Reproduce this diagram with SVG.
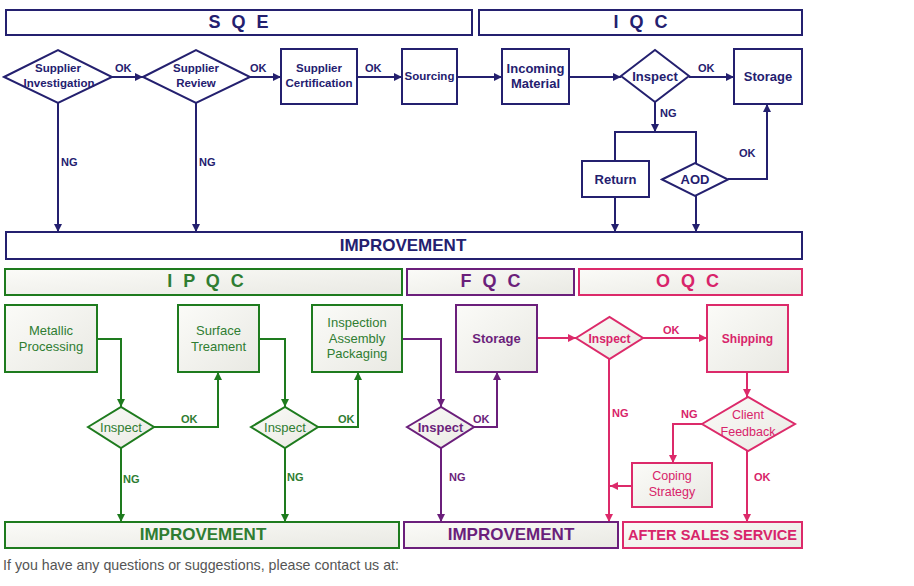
<svg xmlns="http://www.w3.org/2000/svg" width="914" height="586" viewBox="0 0 914 586">
<defs>
<linearGradient id="g" x1="0" y1="0" x2="1" y2="1">
<stop offset="0" stop-color="#fbfbf8"/>
<stop offset="1" stop-color="#e9e9e3"/>
</linearGradient>
<marker id="an" viewBox="0 0 10 10" refX="10" refY="5" markerWidth="9" markerHeight="8" markerUnits="userSpaceOnUse" orient="auto"><path d="M0,0 L10,5 L0,10 z" fill="#24206f"/></marker>
<marker id="ag" viewBox="0 0 10 10" refX="10" refY="5" markerWidth="9" markerHeight="8" markerUnits="userSpaceOnUse" orient="auto"><path d="M0,0 L10,5 L0,10 z" fill="#1e7b1e"/></marker>
<marker id="ap" viewBox="0 0 10 10" refX="10" refY="5" markerWidth="9" markerHeight="8" markerUnits="userSpaceOnUse" orient="auto"><path d="M0,0 L10,5 L0,10 z" fill="#6b1f7b"/></marker>
<marker id="ak" viewBox="0 0 10 10" refX="10" refY="5" markerWidth="9" markerHeight="8" markerUnits="userSpaceOnUse" orient="auto"><path d="M0,0 L10,5 L0,10 z" fill="#dc2a6a"/></marker>
</defs>
<style>
text{font-family:"Liberation Sans",Arial,sans-serif;text-anchor:middle}
.n rect,.n path{fill:#fff;stroke:#24206f;stroke-width:2}
.n text{fill:#24206f;font-weight:bold}
.gr rect,.gr path{fill:url(#g);stroke:#1e7b1e;stroke-width:2}
.gr text{fill:#2f7d32}
.pu rect,.pu path{fill:url(#g);stroke:#6b1f7b;stroke-width:2}
.pu text{fill:#6b1f7b;font-weight:bold}
.pk rect,.pk path{fill:url(#g);stroke:#dc2a6a;stroke-width:2}
.pk text{fill:#d8246a}
.hd{font-size:18px;font-weight:bold;letter-spacing:3px}
.bar{font-size:17px;font-weight:bold}
.s{font-size:11.5px}
.m{font-size:13px}
.lab{font-size:11px;font-weight:bold;text-anchor:start}
.cn path{fill:none;stroke-width:2}
.cn .n1{stroke:#24206f}
.cn .g1{stroke:#1e7b1e}
.cn .p1{stroke:#6b1f7b}
.cn .k1{stroke:#dc2a6a}
</style>

<g id="connectors" class="cn">
<path class="n1" d="M112,77 H143" marker-end="url(#an)"/>
<path class="n1" d="M250,77 H281" marker-end="url(#an)"/>
<path class="n1" d="M357,77 H402" marker-end="url(#an)"/>
<path class="n1" d="M457,77 H502" marker-end="url(#an)"/>
<path class="n1" d="M569,77 H621" marker-end="url(#an)"/>
<path class="n1" d="M689,77 H734" marker-end="url(#an)"/>
<path class="n1" d="M58,103 V232" marker-end="url(#an)"/>
<path class="n1" d="M196,103 V232" marker-end="url(#an)"/>
<path class="n1" d="M655,102 V132" marker-end="url(#an)"/>
<path class="n1" d="M615,161 V132 H696 V163"/>
<path class="n1" d="M615,197 V232" marker-end="url(#an)"/>
<path class="n1" d="M696,196 V232" marker-end="url(#an)"/>
<path class="n1" d="M728,179 H767 V104" marker-end="url(#an)"/>
<path class="g1" d="M97,339 H121 V407" marker-end="url(#ag)"/>
<path class="g1" d="M154,427 H218 V372" marker-end="url(#ag)"/>
<path class="g1" d="M121,448 V522" marker-end="url(#ag)"/>
<path class="g1" d="M259,339 H285 V407" marker-end="url(#ag)"/>
<path class="g1" d="M318,427 H358 V372" marker-end="url(#ag)"/>
<path class="g1" d="M285,448 V522" marker-end="url(#ag)"/>
<path class="p1" d="M402,339 H441 V407" marker-end="url(#ap)"/>
<path class="p1" d="M474,427 H497 V372" marker-end="url(#ap)"/>
<path class="p1" d="M441,448 V522" marker-end="url(#ap)"/>
<path class="k1" d="M537,338 H576" marker-end="url(#ak)"/>
<path class="k1" d="M643,338 H707" marker-end="url(#ak)"/>
<path class="k1" d="M609,359 V522" marker-end="url(#ak)"/>
<path class="k1" d="M747,372 V397" marker-end="url(#ak)"/>
<path class="k1" d="M702,424 H673 V463" marker-end="url(#ak)"/>
<path class="k1" d="M632,486 H610" marker-end="url(#ak)"/>
<path class="k1" d="M747,451 V522" marker-end="url(#ak)"/>
<g class="n"><text class="lab" x="115" y="72">OK</text><text class="lab" x="250" y="72">OK</text><text class="lab" x="365" y="72">OK</text><text class="lab" x="698" y="72">OK</text><text class="lab" x="61" y="166">NG</text><text class="lab" x="199" y="166">NG</text><text class="lab" x="660" y="117">NG</text><text class="lab" x="739" y="157">OK</text></g>
<g class="gr"><text class="lab" x="181" y="423" style="font-weight:bold">OK</text><text class="lab" x="338" y="423" style="font-weight:bold">OK</text><text class="lab" x="123" y="483" style="font-weight:bold">NG</text><text class="lab" x="287" y="481" style="font-weight:bold">NG</text></g>
<g class="pu"><text class="lab" x="473" y="423">OK</text><text class="lab" x="449" y="481">NG</text></g>
<g class="pk"><text class="lab" x="663" y="334" style="font-weight:bold">OK</text><text class="lab" x="612" y="417" style="font-weight:bold">NG</text><text class="lab" x="681" y="418" style="font-weight:bold">NG</text><text class="lab" x="754" y="481" style="font-weight:bold">OK</text></g>
</g>

<g id="sqe" class="n"><rect x="6" y="10" width="466" height="25"/><text class="hd" x="240" y="28">S Q E</text></g>
<g id="iqc" class="n"><rect x="479" y="10" width="323" height="25"/><text class="hd" x="642" y="28">I Q C</text></g>

<g id="supplier-investigation" class="n"><path d="M4,77 L58,50 L112,77 L58,103 Z"/><text class="s" x="58" y="72">Supplier</text><text class="s" x="59" y="87">Investigation</text></g>
<g id="supplier-review" class="n"><path d="M143,77 L196,50 L250,77 L196,103 Z"/><text class="s" x="196" y="72">Supplier</text><text class="s" x="196" y="87">Review</text></g>
<g id="supplier-certification" class="n"><rect x="281" y="49" width="76" height="55"/><text class="s" x="319" y="72">Supplier</text><text class="s" x="319" y="87">Certification</text></g>
<g id="sourcing" class="n"><rect x="402" y="49" width="55" height="55"/><text class="s" x="429.5" y="80">Sourcing</text></g>
<g id="incoming-material" class="n"><rect x="502" y="49" width="67" height="55"/><text class="m" x="535.5" y="73">Incoming</text><text class="m" x="535.5" y="88">Material</text></g>
<g id="iqc-inspect" class="n"><path d="M621,76 L655,50 L689,76 L655,102 Z"/><text class="m" x="655" y="80.5">Inspect</text></g>
<g id="iqc-storage" class="n"><rect x="734" y="49" width="68" height="55"/><text class="m" x="768" y="80.5">Storage</text></g>
<g id="return" class="n"><rect x="582" y="161" width="67" height="36"/><text class="m" x="615.5" y="183.5">Return</text></g>
<g id="aod" class="n"><path d="M662,179.5 L695,163 L728,179.5 L695,196 Z"/><text class="m" x="695" y="184">AOD</text></g>
<g id="improvement-top" class="n"><rect x="6" y="232" width="796" height="27"/><text class="bar" x="403" y="251">IMPROVEMENT</text></g>

<g id="ipqc" class="gr"><rect x="5" y="269" width="397" height="26"/><text class="hd" x="207" y="287" style="font-weight:bold">I P Q C</text></g>
<g id="fqc" class="pu"><rect x="407" y="269" width="167" height="26"/><text class="hd" x="492" y="287">F Q C</text></g>
<g id="oqc" class="pk"><rect x="579" y="269" width="223" height="26"/><text class="hd" x="689" y="287" style="font-weight:bold">O Q C</text></g>

<g id="metallic-processing" class="gr"><rect x="5" y="305" width="92" height="67"/><text class="m" x="51" y="335">Metallic</text><text class="m" x="51" y="351">Processing</text></g>
<g id="surface-treament" class="gr"><rect x="178" y="305" width="81" height="67"/><text class="m" x="218.5" y="335">Surface</text><text class="m" x="218.5" y="351">Treament</text></g>
<g id="inspection-assembly-packaging" class="gr"><rect x="312" y="305" width="90" height="67"/><text class="m" x="357" y="326.5">Inspection</text><text class="m" x="357" y="342.5">Assembly</text><text class="m" x="357" y="358">Packaging</text></g>
<g id="ipqc-inspect-1" class="gr"><path d="M88,427 L121,407 L154,427 L121,448 Z"/><text class="m" x="121" y="431.5">Inspect</text></g>
<g id="ipqc-inspect-2" class="gr"><path d="M251,427 L285,407 L318,427 L285,448 Z"/><text class="m" x="285" y="431.5">Inspect</text></g>
<g id="improvement-ipqc" class="gr"><rect x="5" y="522" width="394" height="26"/><text class="bar" x="203" y="540" style="font-weight:bold">IMPROVEMENT</text></g>

<g id="fqc-storage" class="pu"><rect x="456" y="305" width="81" height="67"/><text class="m" x="496.5" y="342.5">Storage</text></g>
<g id="fqc-inspect" class="pu"><path d="M407,427 L441,407 L474,427 L441,448 Z"/><text class="m" x="440.5" y="431.5">Inspect</text></g>
<g id="improvement-fqc" class="pu"><rect x="404" y="522" width="214" height="26"/><text class="bar" x="511" y="540">IMPROVEMENT</text></g>

<g id="oqc-inspect" class="pk"><path d="M576,338 L609.5,317 L643,338 L609.5,359 Z"/><text class="m" x="609.5" y="342.5" style="font-size:12px;font-weight:bold">Inspect</text></g>
<g id="shipping" class="pk"><rect x="707" y="305" width="81" height="67"/><text x="747.5" y="342.5" style="font-size:12px;font-weight:bold">Shipping</text></g>
<g id="client-feedback" class="pk"><path d="M702,424 L748,397 L795,424 L748,451 Z"/><text x="748" y="419" style="font-size:12.5px">Client</text><text x="748" y="436" style="font-size:12.5px">Feedback</text></g>
<g id="coping-strategy" class="pk"><rect x="632" y="463" width="80" height="44"/><text x="672" y="480" style="font-size:12.5px">Coping</text><text x="672" y="496" style="font-size:12.5px">Strategy</text></g>
<g id="after-sales-service" class="pk"><rect x="623" y="522" width="179" height="26"/><text x="712.5" y="540" style="font-size:15.5px;font-weight:bold" textLength="169" lengthAdjust="spacingAndGlyphs">AFTER SALES SERVICE</text></g>

<text x="3" y="570" style="text-anchor:start;font-size:14.2px;fill:#555" textLength="396">If you have any questions or suggestions, please contact us at:</text>
</svg>
